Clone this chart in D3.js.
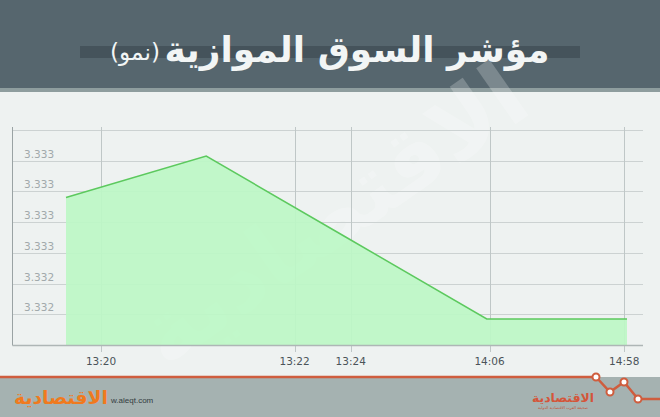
<!DOCTYPE html>
<html><head><meta charset="utf-8">
<script src="https://cdn.jsdelivr.net/npm/d3@7"></script>
<style>html,body{margin:0;padding:0;background:#eef2f1;}svg{display:block;}</style>
</head><body>
<script>
const titleMain = "مؤشر السوق الموازية";
const titleSub = "(نمو)";
const seriesValues = [3.33296, 3.33323, 3.3327, 3.33217, 3.33217];
const seriesIndex = [0, 1, 2, 3, 4];
const xTickLabels = ["13:20", "13:22", "13:24", "14:06", "14:58"];
const xTickPos = [0.25, 1.63, 2.03, 3.02, 3.98];
const yTickValues = [3.3332, 3.3330, 3.3328, 3.3326, 3.3324, 3.3322];
const brandText = "الاقتصادية";
const brandSub = "صحيفة العرب الاقتصادية الدولية";
const siteText = "w.aleqt.com";

const W = 660, H = 417;
const svg = d3.select("body").append("svg").attr("width", W).attr("height", H);
svg.append("rect").attr("width", W).attr("height", H).attr("fill", "#eef2f1");

function fitText(sel, baseSize, targetW) {
  const w = sel.node().getComputedTextLength();
  sel.style("font-size", (baseSize * targetW / w) + "px");
}

// header
svg.append("rect").attr("x", 0).attr("y", 0).attr("width", W).attr("height", 89).attr("fill", "#56666e");
svg.append("rect").attr("x", 0).attr("y", 88).attr("width", W).attr("height", 4).attr("fill", "#8e9d9e");
svg.append("rect").attr("x", 80).attr("y", 46).attr("width", 500).attr("height", 12).attr("fill", "#45535b");
const tMain = svg.append("text").attr("x", 357).attr("y", 62).attr("text-anchor", "middle")
  .attr("direction", "rtl").style("font-family", "DejaVu Sans").style("font-weight", "bold")
  .style("font-size", "36px").attr("fill", "#f2f5f5").text(titleMain);
fitText(tMain, 36, 385);
const tSub = svg.append("text").attr("x", 135).attr("y", 60).attr("text-anchor", "middle")
  .attr("direction", "rtl").style("font-family", "DejaVu Sans")
  .style("font-size", "22px").attr("fill", "#f2f5f5").text(titleSub);
fitText(tSub, 22, 50);

// scales
const x = d3.scaleLinear().domain([0, 4]).range([66, 627]);
const y = d3.scaleLinear().domain([3.3320, 3.3334]).range([345, 130]);
const left = 12.5, right = 643;

// watermark
svg.append("text").attr("transform", "translate(350,240) rotate(-35)").attr("text-anchor", "middle")
  .attr("direction", "rtl")
  .style("font-family", "DejaVu Sans").style("font-weight", "bold").style("font-size", "90px")
  .attr("fill", "#ffffff").attr("opacity", 0.22).text(brandText);

// horizontal grid
const gridY = [3.3334].concat(yTickValues);
svg.append("g").selectAll("line").data(gridY).join("line")
  .attr("x1", left).attr("x2", right).attr("y1", d => Math.round(y(d)) + 0.5).attr("y2", d => Math.round(y(d)) + 0.5)
  .attr("stroke", "#ccd2d2").attr("stroke-width", 1);
// vertical grid
svg.append("g").selectAll("line").data(xTickPos).join("line")
  .attr("x1", d => Math.round(x(d)) + 0.5).attr("x2", d => Math.round(x(d)) + 0.5)
  .attr("y1", 127).attr("y2", 352).attr("stroke", "#bfc7c7").attr("stroke-width", 1);

// area + line
const pts = seriesIndex.map((i, k) => [i, seriesValues[k]]);
svg.append("path").datum(pts)
  .attr("d", d3.area().x(d => x(d[0])).y0(y(3.3320)).y1(d => y(d[1])))
  .attr("fill", "#bdf7c6").attr("fill-opacity", 0.92);
svg.append("path").datum(pts)
  .attr("d", d3.line().x(d => x(d[0])).y(d => y(d[1])))
  .attr("fill", "none").attr("stroke", "#5cc95e").attr("stroke-width", 1.5);

// axes lines
svg.append("line").attr("x1", left).attr("x2", left).attr("y1", 127).attr("y2", 345.5).attr("stroke", "#9aa3a4").attr("stroke-width", 1);
svg.append("line").attr("x1", left).attr("x2", right).attr("y1", 345.5).attr("y2", 345.5).attr("stroke", "#aeb6b6").attr("stroke-width", 1.5);

// y labels
const fmt = d3.format(".3f");
svg.append("g").selectAll("text").data(yTickValues).join("text")
  .attr("x", 24).attr("y", d => y(d) - 3)
  .style("font-family", "DejaVu Sans").style("font-size", "10.5px").attr("fill", "#a1a9ab")
  .text(d => fmt(d));
// x labels
svg.append("g").selectAll("text").data(xTickLabels).join("text")
  .attr("x", (d, i) => x(xTickPos[i])).attr("y", 365).attr("text-anchor", "middle")
  .style("font-family", "DejaVu Sans").style("font-size", "10.5px").attr("fill", "#4b5459")
  .text(d => d);

// footer
svg.append("rect").attr("x", 0).attr("y", 377).attr("width", W).attr("height", 40).attr("fill", "#a5b2b1");
const deco = [[0, 377], [596, 377], [610, 392], [624, 382], [638, 399], [660, 399]];
svg.append("path").attr("d", d3.line()(deco)).attr("fill", "none").attr("stroke", "#cf5d3e").attr("stroke-width", 2.5);
svg.append("g").selectAll("circle").data(deco.slice(1, 5)).join("circle")
  .attr("cx", d => d[0]).attr("cy", d => d[1]).attr("r", 3.5)
  .attr("fill", "#ffffff").attr("stroke", "#cf5d3e").attr("stroke-width", 2);
const rLogo = svg.append("text").attr("x", 563).attr("y", 402).attr("text-anchor", "middle").attr("direction", "rtl")
  .style("font-family", "DejaVu Sans").style("font-weight", "bold").style("font-size", "17px")
  .attr("fill", "#d4553a").text(brandText);
fitText(rLogo, 17, 62);
const rSub = svg.append("text").attr("x", 563).attr("y", 409).attr("text-anchor", "middle").attr("direction", "rtl")
  .style("font-family", "DejaVu Sans").style("font-size", "4px")
  .attr("fill", "#c4553a").text(brandSub);
fitText(rSub, 4, 50);
const lLogo = svg.append("text").attr("x", 61).attr("y", 404).attr("text-anchor", "middle").attr("direction", "rtl")
  .style("font-family", "DejaVu Sans").style("font-weight", "bold").style("font-size", "24px")
  .attr("fill", "#f07a1e").text(brandText);
fitText(lLogo, 24, 94);
svg.append("text").attr("x", 111).attr("y", 403)
  .style("font-family", "Liberation Sans").style("font-size", "8px")
  .attr("fill", "#333c40").text(siteText);
</script>
</body></html>
